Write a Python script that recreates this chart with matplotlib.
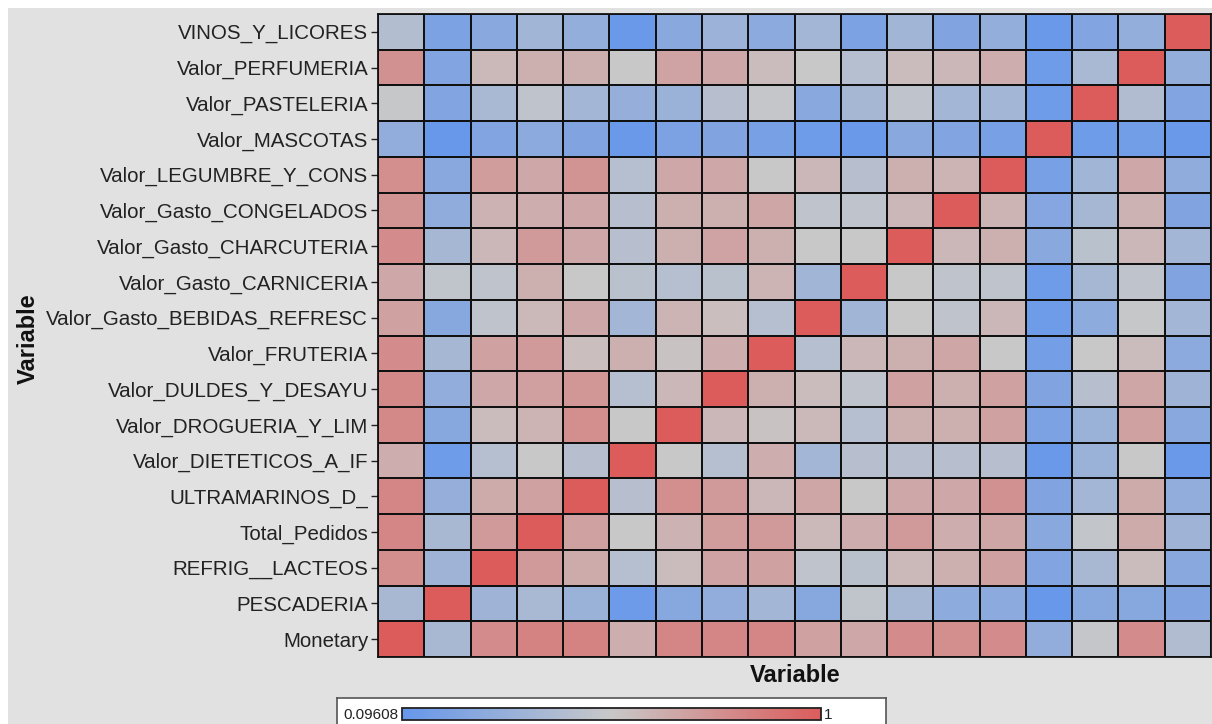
import matplotlib
matplotlib.use('Agg')
import matplotlib.pyplot as plt
import numpy as np
from matplotlib.colors import LinearSegmentedColormap
from matplotlib.patches import Rectangle

plt.rcParams['font.family'] = ['Liberation Sans', 'DejaVu Sans']

# ---- data ----
variables = [
    'Monetary', 'PESCADERIA', 'REFRIG__LACTEOS', 'Total_Pedidos', 'ULTRAMARINOS_D_',
    'Valor_DIETETICOS_A_IF', 'Valor_DROGUERIA_Y_LIM', 'Valor_DULDES_Y_DESAYU',
    'Valor_FRUTERIA', 'Valor_Gasto_BEBIDAS_REFRESC', 'Valor_Gasto_CARNICERIA',
    'Valor_Gasto_CHARCUTERIA', 'Valor_Gasto_CONGELADOS', 'Valor_LEGUMBRE_Y_CONS',
    'Valor_MASCOTAS', 'Valor_PASTELERIA', 'Valor_PERFUMERIA', 'VINOS_Y_LICORES',
]

corr = [
    [1.00, 0.40, 0.80, 0.84, 0.84, 0.66, 0.83, 0.83, 0.82, 0.71, 0.68, 0.80, 0.79, 0.80, 0.30, 0.53, 0.80, 0.44],
    [0.40, 1.00, 0.36, 0.41, 0.34, 0.13, 0.25, 0.30, 0.38, 0.25, 0.51, 0.39, 0.28, 0.27, 0.11, 0.25, 0.25, 0.22],
    [0.79, 0.36, 1.00, 0.74, 0.67, 0.46, 0.60, 0.70, 0.71, 0.50, 0.48, 0.61, 0.65, 0.71, 0.23, 0.40, 0.60, 0.26],
    [0.83, 0.40, 0.74, 1.00, 0.71, 0.55, 0.64, 0.73, 0.74, 0.61, 0.66, 0.74, 0.66, 0.69, 0.26, 0.52, 0.67, 0.36],
    [0.83, 0.32, 0.67, 0.71, 1.00, 0.47, 0.79, 0.74, 0.62, 0.69, 0.55, 0.68, 0.68, 0.78, 0.22, 0.38, 0.67, 0.30],
    [0.66, 0.14, 0.46, 0.55, 0.47, 1.00, 0.55, 0.46, 0.66, 0.38, 0.47, 0.47, 0.47, 0.47, 0.12, 0.34, 0.55, 0.12],
    [0.81, 0.25, 0.60, 0.63, 0.79, 0.55, 1.00, 0.62, 0.57, 0.61, 0.46, 0.65, 0.65, 0.71, 0.20, 0.34, 0.71, 0.26],
    [0.81, 0.30, 0.68, 0.72, 0.75, 0.46, 0.62, 1.00, 0.65, 0.60, 0.50, 0.71, 0.65, 0.71, 0.22, 0.47, 0.69, 0.36],
    [0.80, 0.39, 0.71, 0.74, 0.59, 0.65, 0.57, 0.66, 1.00, 0.46, 0.62, 0.65, 0.69, 0.55, 0.16, 0.55, 0.60, 0.27],
    [0.71, 0.25, 0.50, 0.61, 0.68, 0.38, 0.63, 0.59, 0.46, 1.00, 0.37, 0.55, 0.50, 0.62, 0.14, 0.28, 0.54, 0.38],
    [0.68, 0.51, 0.50, 0.65, 0.55, 0.48, 0.46, 0.48, 0.63, 0.37, 1.00, 0.55, 0.50, 0.50, 0.14, 0.39, 0.50, 0.22],
    [0.80, 0.39, 0.62, 0.74, 0.68, 0.47, 0.65, 0.70, 0.65, 0.55, 0.55, 1.00, 0.62, 0.65, 0.26, 0.48, 0.62, 0.38],
    [0.77, 0.29, 0.64, 0.66, 0.68, 0.47, 0.65, 0.65, 0.69, 0.50, 0.50, 0.62, 1.00, 0.63, 0.24, 0.39, 0.64, 0.22],
    [0.79, 0.26, 0.73, 0.68, 0.77, 0.46, 0.68, 0.68, 0.55, 0.62, 0.47, 0.65, 0.63, 1.00, 0.18, 0.37, 0.68, 0.29],
    [0.30, 0.11, 0.23, 0.27, 0.22, 0.12, 0.20, 0.22, 0.18, 0.14, 0.12, 0.26, 0.23, 0.18, 1.00, 0.14, 0.15, 0.12],
    [0.54, 0.23, 0.41, 0.50, 0.38, 0.32, 0.34, 0.47, 0.53, 0.26, 0.39, 0.50, 0.38, 0.38, 0.14, 1.00, 0.44, 0.23],
    [0.78, 0.23, 0.61, 0.65, 0.65, 0.55, 0.70, 0.68, 0.60, 0.55, 0.46, 0.60, 0.62, 0.66, 0.14, 0.41, 1.00, 0.31],
    [0.45, 0.20, 0.26, 0.37, 0.31, 0.12, 0.26, 0.35, 0.27, 0.38, 0.20, 0.37, 0.22, 0.31, 0.12, 0.23, 0.31, 1.00],
]

vmin_label = '0.09608'
vmax_label = '1'
VMIN = 0.09608
VMAX = 1.0

# ---- figure ----
W, H = 1212, 724
fig = plt.figure(figsize=(W / 100, H / 100), dpi=100, facecolor='white')
fig.patches.append(Rectangle((8 / W, 0), 1 - 8 / W, 1 - 8 / H, transform=fig.transFigure,
                             facecolor='#e1e1e1', edgecolor='none', zorder=-10))


def rect(x0, y0, x1, y1):
    return [x0 / W, 1 - y1 / H, (x1 - x0) / W, (y1 - y0) / H]


cmap = LinearSegmentedColormap.from_list('bgr', ['#6697eb', '#c8c8c8', '#dc5c5c'])

ax = fig.add_axes(rect(378, 14, 1211, 657))
data = np.array(corr)
n = len(variables)
mesh = ax.pcolormesh(np.arange(n + 1), np.arange(n + 1), data, cmap=cmap, vmin=VMIN, vmax=VMAX,
                     edgecolors='#111111', linewidth=1.2)
ax.set_xlim(0, n)
ax.set_ylim(0, n)
ax.set_yticks(np.arange(n) + 0.5)
ax.set_yticklabels(variables, fontsize=14.8, color='#222222')
ax.set_xticks([])
ax.tick_params(axis='y', length=5, width=1, pad=2, color='#222222')
for s in ax.spines.values():
    s.set_linewidth(1.3)
    s.set_color('#111111')

fig.text(795 / W, 1 - 675 / H, 'Variable', fontsize=17, fontweight='bold', ha='center', va='center',
         color='#111111')
fig.text(28 / W, 1 - 339 / H, 'Variable', fontsize=17, fontweight='bold', ha='center', va='center',
         rotation=90, color='#111111')

# legend box
lax = fig.add_axes(rect(337, 698, 886, 740))
lax.set_facecolor('white')
lax.set_xticks([])
lax.set_yticks([])
for s in lax.spines.values():
    s.set_color('#555555')
    s.set_linewidth(1.2)

cax = fig.add_axes(rect(402, 708, 821, 720))
cb = fig.colorbar(mesh, cax=cax, orientation='horizontal')
cb.set_ticks([])
cb.outline.set_edgecolor('#222222')
cb.outline.set_linewidth(1.3)
fig.text(343 / W, 1 - 715 / H, vmin_label, fontsize=11, ha='left', va='center', color='#222222')
fig.text(824 / W, 1 - 715 / H, vmax_label, fontsize=11, ha='left', va='center', color='#222222')

fig.savefig('out.png', dpi=100, facecolor=fig.get_facecolor())
